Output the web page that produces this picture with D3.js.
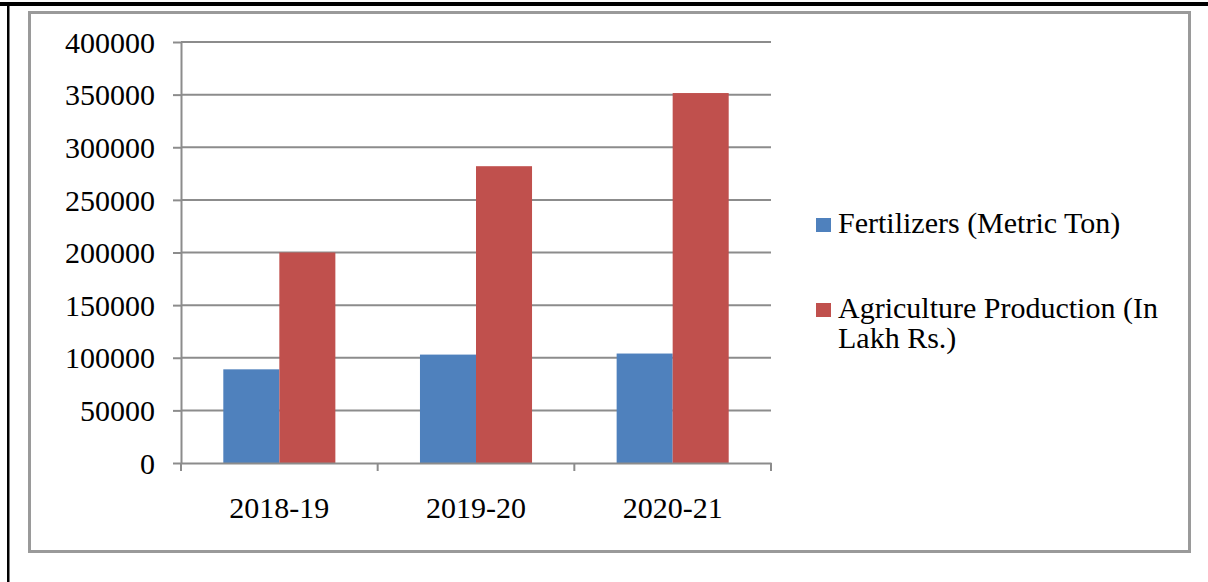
<!DOCTYPE html>
<meta charset="utf-8">
<style>
  body { margin: 0; background: #fff; }
  text { font-family: "Liberation Serif", serif; fill: #000; }
</style>
<svg width="1208" height="582"></svg>
<script src="https://d3js.org/d3.v7.min.js"></script>
<script>

var years = ["2018-19", "2019-20", "2020-21"],
    fertilizers = [89000, 103000, 104000],
    production = [200000, 282000, 351500],
    seriesNames = ["Fertilizers (Metric Ton)", "Agriculture Production (In Lakh Rs.)"],
    seriesColors = ["#4f81bd", "#c0504d"],
    yTicks = [0, 50000, 100000, 150000, 200000, 250000, 300000, 350000, 400000];

var svg = d3.select("svg");

// page borders
svg.append("rect").attr("x", 0).attr("y", 2).attr("width", 1208).attr("height", 4).attr("fill", "#000");
svg.append("rect").attr("x", 7).attr("y", 2).attr("width", 2.5).attr("height", 580).attr("fill", "#000");

// chart frame
svg.append("rect")
    .attr("x", 29.5).attr("y", 12.5).attr("width", 1160).attr("height", 539)
    .attr("fill", "none").attr("stroke", "#9a9a9a").attr("stroke-width", 3);

var x0 = 181, x1 = 771, yTop = 42, yBottom = 463;

var x = d3.scaleBand().domain(years).range([x0, x1]).paddingInner(0).paddingOuter(0);
var xs = d3.scaleBand().domain([0, 1]).range([0, x.bandwidth()]).paddingInner(0).paddingOuter(0.755);
var y = d3.scaleLinear().domain([0, 400000]).range([yBottom, yTop]);

// gridlines
svg.append("g").selectAll("line").data(yTicks.slice(1)).join("line")
    .attr("x1", x0).attr("x2", x1)
    .attr("y1", d => y(d)).attr("y2", d => y(d))
    .attr("stroke", "#8c8c8c").attr("stroke-width", 2);

// bars
var rows = years.map((yr, i) => ({ year: yr, values: [fertilizers[i], production[i]] }));
svg.append("g").selectAll("g").data(rows).join("g")
    .attr("transform", d => "translate(" + x(d.year) + ",0)")
  .selectAll("rect").data(d => d.values).join("rect")
    .attr("x", (d, i) => xs(i))
    .attr("width", xs.bandwidth())
    .attr("y", d => y(d))
    .attr("height", d => y(0) - y(d))
    .attr("fill", (d, i) => seriesColors[i]);

// y axis
var yAxis = svg.append("g").attr("transform", "translate(" + x0 + ",0)")
    .call(d3.axisLeft(y).tickValues(yTicks).tickFormat(d3.format("d")).tickSize(8).tickSizeOuter(0));
yAxis.select(".domain").attr("stroke", "#8c8c8c").attr("stroke-width", 2);
yAxis.selectAll(".tick line").attr("stroke", "#8c8c8c").attr("stroke-width", 2);
yAxis.selectAll(".tick text")
    .attr("x", -26).attr("dy", "0.34em")
    .style("font-family", "Liberation Serif").style("font-size", "30px").attr("fill", "#000");

// x axis
var xAxis = svg.append("g").attr("transform", "translate(0," + yBottom + ")")
    .call(d3.axisBottom(x).tickSize(0).tickSizeOuter(0));
xAxis.select(".domain").attr("stroke", "#8c8c8c").attr("stroke-width", 2);
xAxis.selectAll(".tick text")
    .attr("y", 55).attr("dy", 0)
    .style("font-family", "Liberation Serif").style("font-size", "30px").attr("fill", "#000");
xAxis.append("g").selectAll("line").data([x0].concat(years.map(d => x(d) + x.bandwidth()))).join("line")
    .attr("x1", d => d).attr("x2", d => d).attr("y1", 0).attr("y2", 8)
    .attr("stroke", "#8c8c8c").attr("stroke-width", 2);

// legend
var legend = svg.append("g").attr("transform", "translate(816,0)");
var legendLines = [["Fertilizers (Metric Ton)"], ["Agriculture Production (In", "Lakh Rs.)"]];
var legendY = [233, 318];
legendLines.forEach(function(lines, i) {
  legend.append("rect").attr("x", 0).attr("y", legendY[i] - 15).attr("width", 15).attr("height", 14)
      .attr("fill", seriesColors[i]);
  var t = legend.append("text").attr("x", 22).attr("y", legendY[i])
      .style("font-size", "30px");
  lines.forEach(function(l, j) {
    t.append("tspan").attr("x", 22).attr("dy", j ? 30 : 0).text(l);
  });
});

</script>
